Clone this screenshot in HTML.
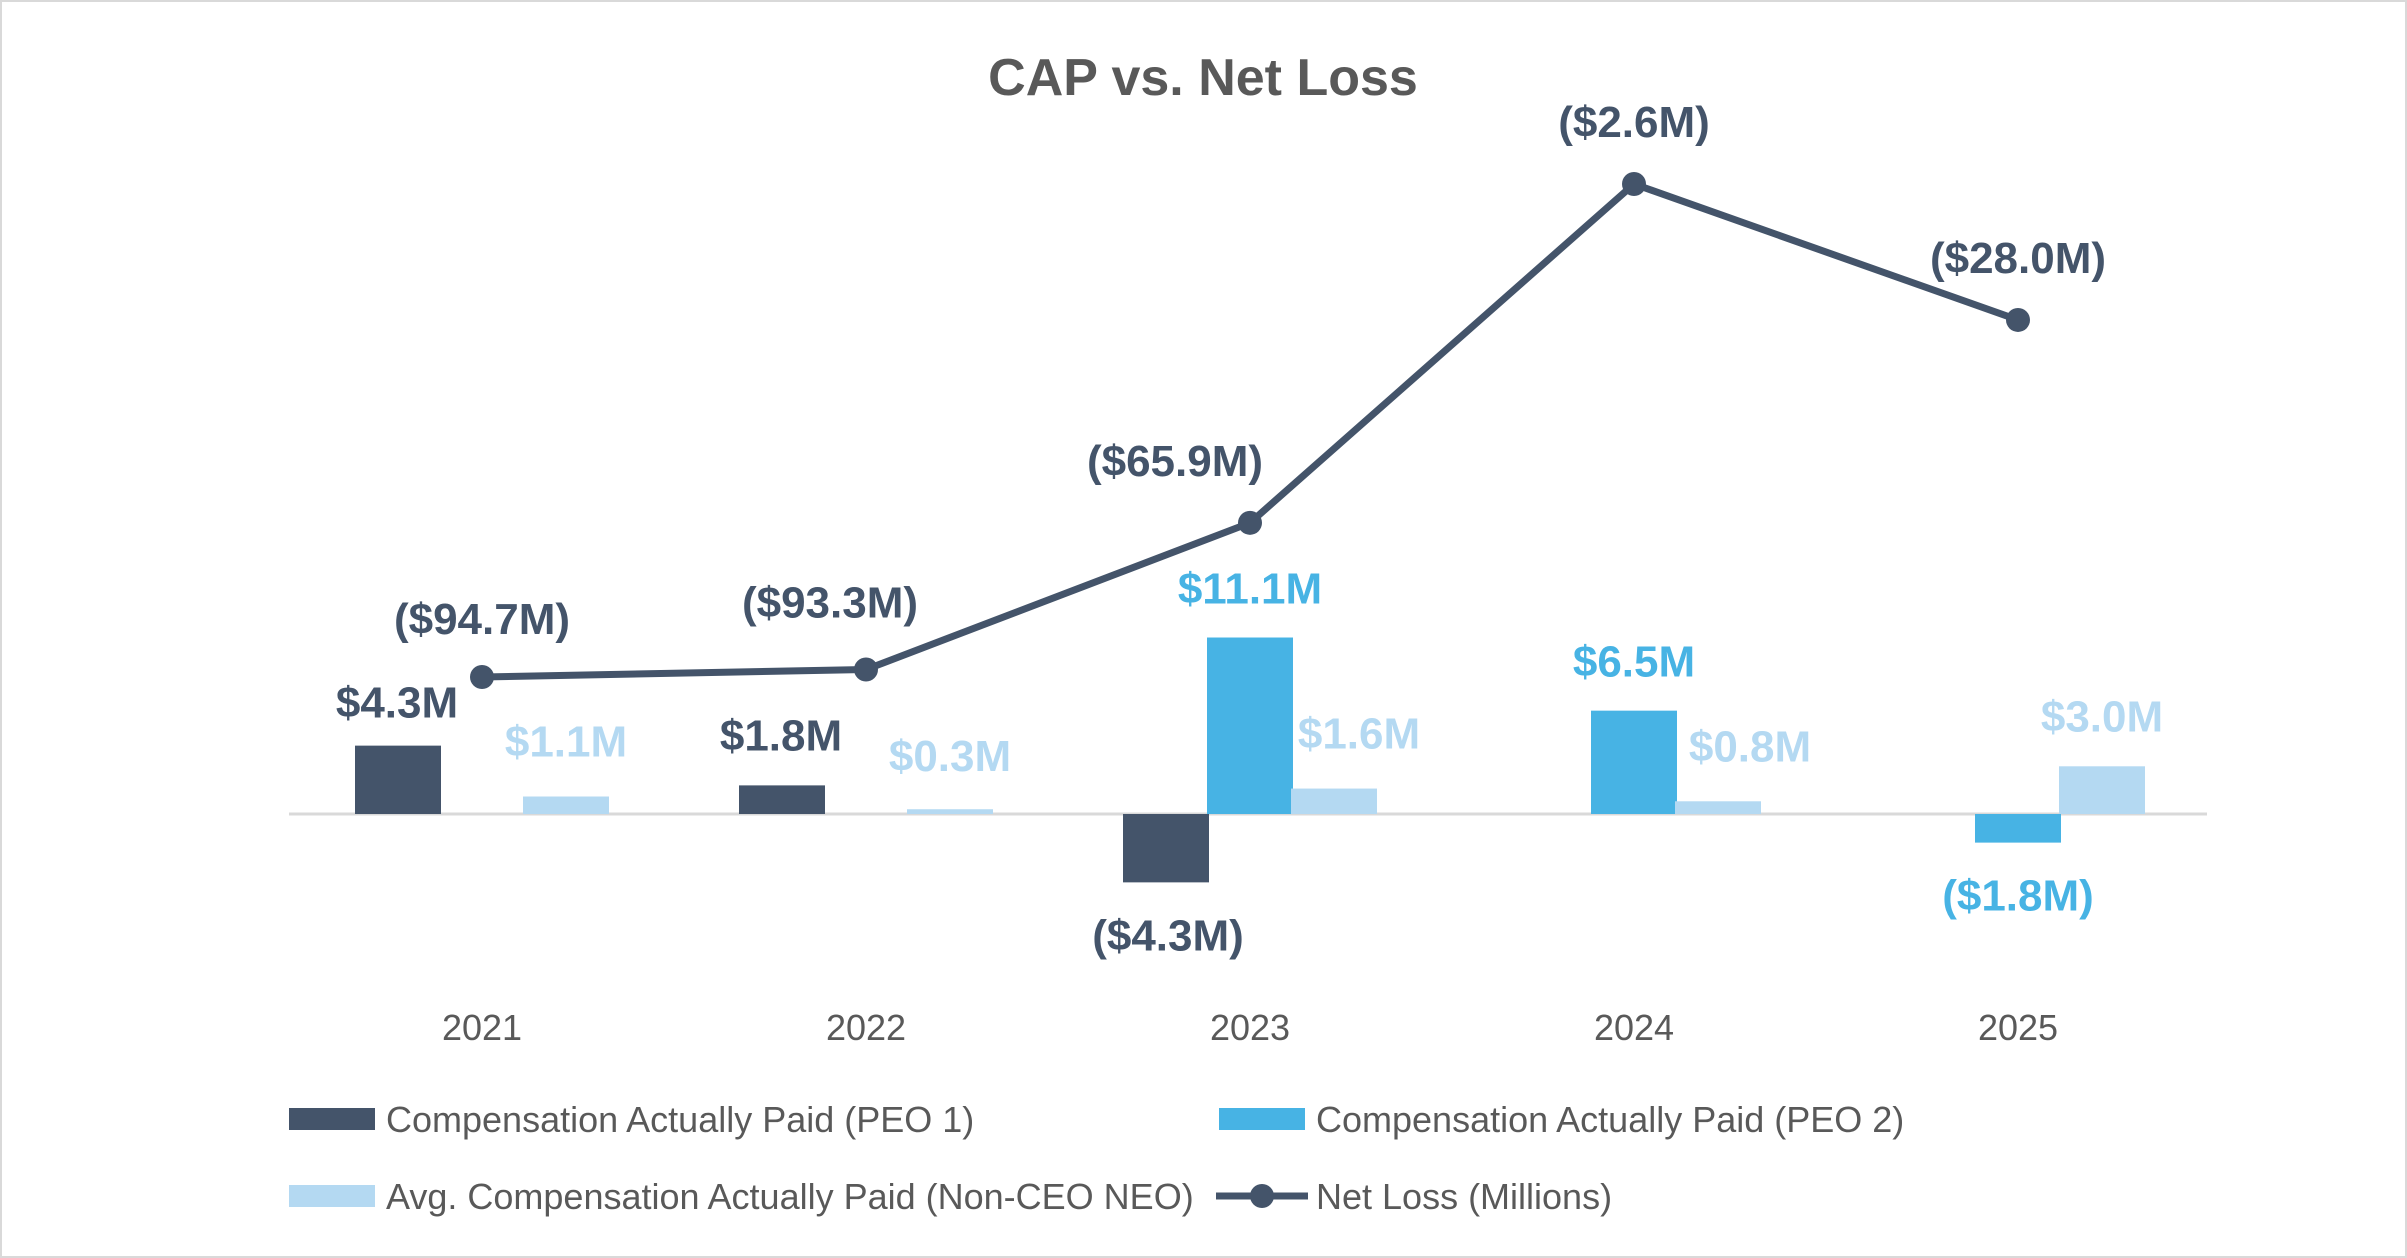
<!DOCTYPE html>
<html><head><meta charset="utf-8"><style>
html,body{margin:0;padding:0;background:#fff}
svg{display:block}
text{font-family:"Liberation Sans",sans-serif}
</style></head><body>
<svg id="chart" width="2407" height="1258" viewBox="0 0 2407 1258" xmlns="http://www.w3.org/2000/svg">
<rect x="1" y="1" width="2405" height="1256" fill="#fff" stroke="#d9d9d9" stroke-width="2"/>
<text x="1203" y="95" text-anchor="middle" font-size="52" font-weight="bold" fill="#595959">CAP vs. Net Loss</text>
<line x1="289" y1="814" x2="2207" y2="814" stroke="#d9d9d9" stroke-width="3"/>
<g id="bars"></g>
<g id="line"></g>
<g id="labels"></g>
<g id="xticks"></g>
<g>
 <rect x="289" y="1108" width="86" height="22" fill="#44546A"/>
 <text x="386" y="1132" font-size="36" fill="#595959">Compensation Actually Paid (PEO 1)</text>
 <rect x="1219" y="1108" width="86" height="22" fill="#47B3E4"/>
 <text x="1316" y="1132" font-size="36" fill="#595959">Compensation Actually Paid (PEO 2)</text>
 <rect x="289" y="1185" width="86" height="22" fill="#B4D9F2"/>
 <text x="386" y="1209" font-size="36" fill="#595959">Avg. Compensation Actually Paid (Non-CEO NEO)</text>
 <line x1="1216" y1="1196" x2="1308" y2="1196" stroke="#44546A" stroke-width="7"/>
 <circle cx="1262" cy="1196" r="12" fill="#44546A"/>
 <text x="1316" y="1209" font-size="36" fill="#595959">Net Loss (Millions)</text>
</g>
</svg>
<script>
const years = ["2021","2022","2023","2024","2025"];
const peo1 = [4.3, 1.8, -4.3, null, null];
const peo2 = [null, null, 11.1, 6.5, -1.8];
const neo = [1.1, 0.3, 1.6, 0.8, 3.0];
const netLoss = [-94.7, -93.3, -65.9, -2.6, -28.0];

const NS="http://www.w3.org/2000/svg";
const x0=482, step=384, base=814, barK=15.9, barW=86;
const xc=i=>x0+i*step;
const yBar=v=>base-v*barK;
const yLine=v=>184+(-2.6-v)*5.353;
const fmt=v=>v<0?"($"+Math.abs(v).toFixed(1)+"M)":"$"+v.toFixed(1)+"M";
function mk(tag,attrs,parent){const e=document.createElementNS(NS,tag);for(const k in attrs)e.setAttribute(k,attrs[k]);parent.appendChild(e);return e;}
const gb=document.getElementById('bars'),gl=document.getElementById('line'),gt=document.getElementById('labels'),gx=document.getElementById('xticks');
const series=[{d:peo1,off:-84,c:"#44546A",n:"peo1"},{d:peo2,off:0,c:"#47B3E4",n:"peo2"},{d:neo,off:84,c:"#B4D9F2",n:"neo"}];
const neoDx=[0,0,25,32,0];
series.forEach(s=>{
 s.d.forEach((v,i)=>{
  if(v===null)return;
  const cx=xc(i)+s.off, y=yBar(v);
  const r=mk('rect',{x:cx-barW/2,y:Math.min(y,base),width:barW,height:Math.abs(base-y),fill:s.c},gb);
  
  
  let lx=cx,ly=y-34;
  if(s.n==="peo1"&&v>=0){lx=cx-1;ly=y-(i===0?28:35);}
  if(s.n==="neo"){lx=cx+neoDx[i];ly=y-(i===1?38:i===4?35:40);}
  if(v<0){lx=s.n==="peo1"?cx+2:cx; ly=y+68;}
  const t=mk('text',{x:lx,y:ly,'text-anchor':'middle','font-size':'44','font-weight':'bold',fill:s.c},gt);
  t.textContent=fmt(v);
  
  
 });
});
const pts=netLoss.map((v,i)=>xc(i)+","+yLine(v)).join(" ");
const pl=mk('polyline',{points:pts,fill:"none",stroke:"#44546A","stroke-width":"7","stroke-linejoin":"round"},gl);


const nlOff=[[0,-43],[-36,-52],[-75,-47],[0,-47],[0,-47]];
netLoss.forEach((v,i)=>{
 const c=mk('circle',{cx:xc(i),cy:yLine(v),r:12,fill:"#44546A"},gl);
 
 
 const t=mk('text',{x:xc(i)+nlOff[i][0],y:yLine(v)+nlOff[i][1],'text-anchor':'middle','font-size':'44','font-weight':'bold',fill:"#44546A"},gt);
 t.textContent=fmt(v);
 
 
});
years.forEach((y,i)=>{
 const t=mk('text',{x:xc(i),y:1040,'text-anchor':'middle','font-size':'36',fill:"#595959"},gx);
 t.textContent=y;
 
 
});
</script>
</body></html>
